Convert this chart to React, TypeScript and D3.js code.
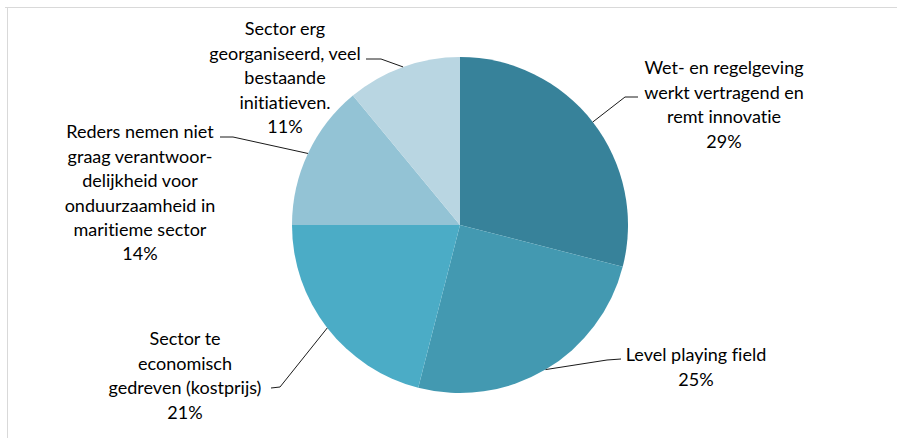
import React from "react";
import * as d3 from "d3";

const categories = [
  ["Wet- en regelgeving", "werkt vertragend en", "remt innovatie"],
  ["Level playing field"],
  ["Sector te", "economisch", "gedreven (kostprijs)"],
  ["Reders nemen niet", "graag verantwoor-", "delijkheid voor", "onduurzaamheid in", "maritieme sector"],
  ["Sector erg", "georganiseerd, veel", "bestaande", "initiatieven."],
];
const values = [29, 25, 21, 14, 11];
const colors = ["#37829A", "#4399B1", "#4BACC6", "#93C3D5", "#B9D6E2"];

// layout: label block center x, first line y, elbow point, line end
const labelLayout = [
  { x: 724, y: 68, elbow: [625, 97], end: [638, 97] },
  { x: 696, y: 355, elbow: [607, 360], end: [621, 359] },
  { x: 185, y: 339, elbow: [280, 387], end: [271, 388] },
  { x: 140, y: 132, elbow: [233, 137], end: [220, 137] },
  { x: 285, y: 29, elbow: [381, 59], end: [366, 59] },
];

const W = 897;
const H = 438;
const cx = 460;
const cy = 225;
const R = 168;

export default function App() {
  const pie = d3.pie<number>().sort(null).value((d) => d)(values);
  const arc = d3.arc<d3.PieArcDatum<number>>().innerRadius(0).outerRadius(R);
  const lineH = 24.4;
  return (
    <svg
      width={W}
      height={H}
      style={{ position: "absolute", left: 0, top: 0, background: "#fff", fontVariantLigatures: "none" }}
      fontFamily="Lato, 'Open Sans', sans-serif"
    >
      <path d={`M5,7.5 H${W} M7.5,7 V${H}`} stroke="#D9D9D9" strokeWidth={1} fill="none" />
      <g transform={`translate(${cx},${cy})`}>
        {pie.map((p, i) => (
          <path key={i} d={arc(p) || ""} fill={colors[i]} />
        ))}
      </g>
      {pie.map((p, i) => {
        const mid = (p.startAngle + p.endAngle) / 2;
        const sx = cx + R * Math.sin(mid);
        const sy = cy - R * Math.cos(mid);
        const L = labelLayout[i];
        const lines = [...categories[i], `${values[i]}%`];
        return (
          <g key={i}>
            <polyline
              points={`${sx},${sy} ${L.elbow[0]},${L.elbow[1]} ${L.end[0]},${L.end[1]}`}
              fill="none"
              stroke="#1a1a1a"
              strokeWidth={1}
            />
            <text
              textAnchor="middle"
              fontSize={18}
              fill="#000"
              style={{ fontVariantLigatures: "none", fontFeatureSettings: "'liga' 0, 'clig' 0" }}
            >
              {lines.map((t, j) => (
                <tspan key={j} x={L.x} y={L.y + j * lineH} dy="0.35em">
                  {t}
                </tspan>
              ))}
            </text>
          </g>
        );
      })}
    </svg>
  );
}
